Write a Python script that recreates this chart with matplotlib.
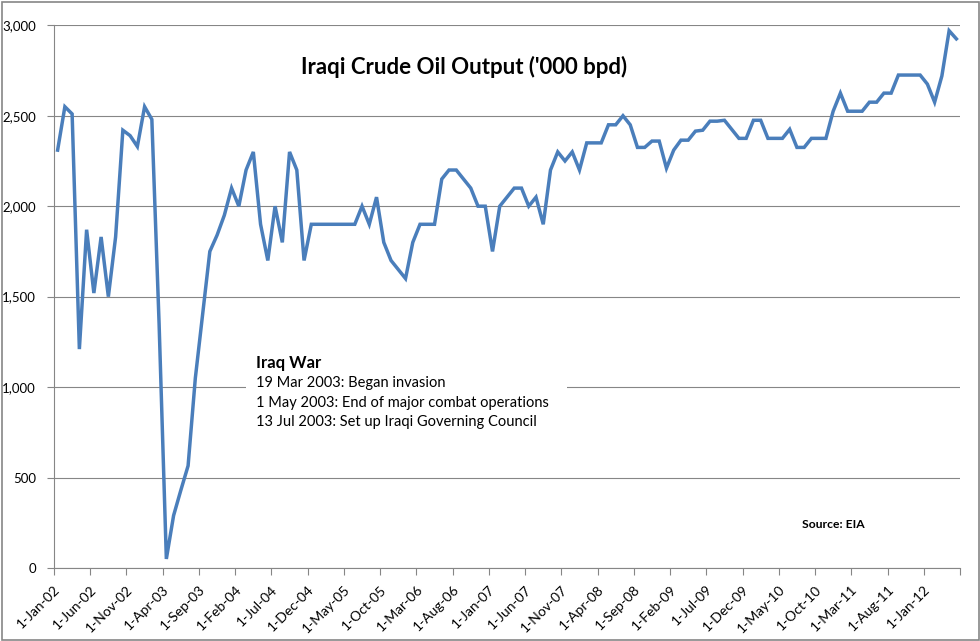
import numpy as np
import matplotlib.pyplot as plt
from matplotlib.patches import Rectangle

# Iraqi crude oil output, monthly, Jan-2002 .. May-2012 ('000 bpd)
output_kbpd = [
    2310, 2550, 2510, 1210, 1870, 1520, 1830, 1500, 1830, 2420, 2390, 2330,   # 2002
    2550, 2480, 1350, 50, 290, 430, 565, 1050, 1400, 1750, 1840, 1950,        # 2003
    2100, 2000, 2200, 2300, 1900, 1700, 2000, 1800, 2300, 2200, 1700, 1900,   # 2004
    1900, 1900, 1900, 1900, 1900, 1900, 2000, 1900, 2050, 1800, 1700, 1650,   # 2005
    1600, 1800, 1900, 1900, 1900, 2150, 2200, 2200, 2150, 2100, 2000, 2000,   # 2006
    1750, 2000, 2050, 2100, 2100, 2000, 2050, 1900, 2200, 2300, 2250, 2300,   # 2007
    2200, 2350, 2350, 2350, 2450, 2450, 2500, 2450, 2325, 2325, 2360, 2360,   # 2008
    2210, 2310, 2365, 2365, 2415, 2420, 2470, 2470, 2475, 2425, 2375, 2375,   # 2009
    2475, 2475, 2375, 2375, 2375, 2425, 2325, 2325, 2375, 2375, 2375, 2525,   # 2010
    2625, 2525, 2525, 2525, 2575, 2575, 2625, 2625, 2725, 2725, 2725, 2725,   # 2011
    2675, 2575, 2720, 2970, 2925,                                             # 2012
]

tick_labels = ['1-Jan-02', '1-Jun-02', '1-Nov-02', '1-Apr-03', '1-Sep-03', '1-Feb-04',
               '1-Jul-04', '1-Dec-04', '1-May-05', '1-Oct-05', '1-Mar-06', '1-Aug-06',
               '1-Jan-07', '1-Jun-07', '1-Nov-07', '1-Apr-08', '1-Sep-08', '1-Feb-09',
               '1-Jul-09', '1-Dec-09', '1-May-10', '1-Oct-10', '1-Mar-11', '1-Aug-11',
               '1-Jan-12', '']

war_notes = ['19 Mar 2003: Began invasion',
             '1 May 2003: End of major combat operations',
             '13 Jul 2003: Set up Iraqi Governing Council']

plt.rcParams['font.family'] = ['Lato', 'DejaVu Sans']

W, H = 980, 641
fig = plt.figure(figsize=(W / 100, H / 100), dpi=100)
ax = fig.add_axes([54 / W, 1 - 568 / H, (960 - 54) / W, (568 - 25.3) / H])

n = len(output_kbpd)
x = np.arange(n) + 0.5
ax.plot(x, output_kbpd, color='#4A7EBB', linewidth=2.5, solid_joinstyle='miter', zorder=3)

ax.set_xlim(0, n)
ax.set_ylim(0, 3000)
ax.set_yticks(range(0, 3001, 500))
ax.set_yticklabels([f'{v:,}' for v in range(0, 3001, 500)], fontsize=9.5)
ax.set_xticks(range(0, n + 1, 5))
ax.set_xticklabels(tick_labels, fontsize=10, rotation=45, ha='right', va='top',
                   rotation_mode='anchor')

ax.grid(axis='y', color='#868686', linewidth=0.8)
ax.set_axisbelow(True)
for s in ['top', 'right']:
    ax.spines[s].set_visible(False)
for s in ['left', 'bottom']:
    ax.spines[s].set_color('#868686')
    ax.spines[s].set_linewidth(0.8)
ax.tick_params(axis='both', color='#868686', length=5, width=0.8)
ax.tick_params(axis='y', pad=8)
ax.tick_params(axis='x', pad=6)

# title and notes
fig.text(464 / W, 1 - 67 / H, "Iraqi Crude Oil Output ('000 bpd)", fontsize=16,
         fontweight='bold', ha='center', va='center')
fig.text(802 / W, 1 - 524 / H, 'Source: EIA', fontsize=8.7, fontweight='bold',
         ha='left', va='center')

fig.patches.append(Rectangle((246 / W, 1 - 432 / H), (567 - 246) / W, (432 - 350) / H,
                             transform=fig.transFigure, facecolor='white',
                             edgecolor='none', zorder=2))
fig.text(256 / W, 1 - 362.7 / H, 'Iraq War', fontsize=12, fontweight='bold',
         ha='left', va='center', zorder=4)
for k, note in enumerate(war_notes):
    fig.text(256 / W, 1 - (383.3 + 19.3 * k) / H, note, fontsize=10.5,
             ha='left', va='center', zorder=4)

# chart border
fig.patches.append(Rectangle((1.5 / W, 1.5 / H), (W - 3) / W, (H - 3) / H,
                             transform=fig.transFigure, facecolor='none',
                             edgecolor='#868686', linewidth=1.2))

fig.savefig('out.png', dpi=100)
